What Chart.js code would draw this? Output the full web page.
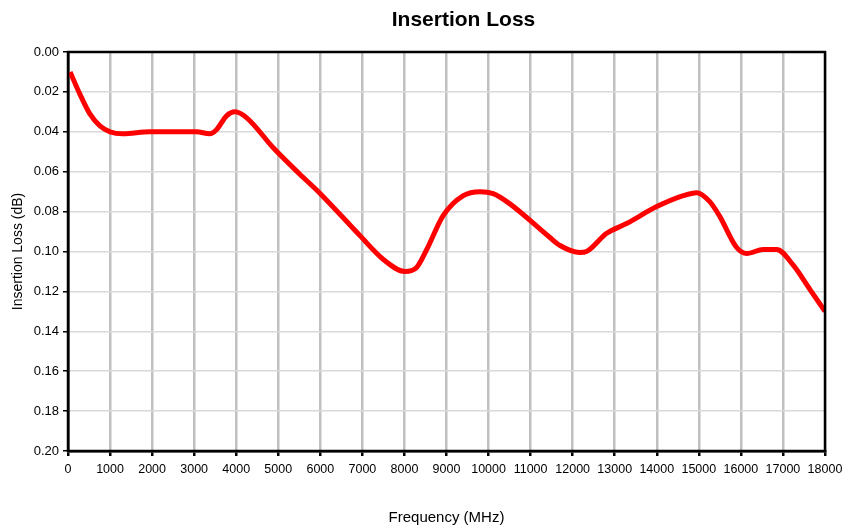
<!DOCTYPE html>
<html>
<head>
<meta charset="utf-8">
<script src="https://cdn.jsdelivr.net/npm/chart.js@4.4.0/dist/chart.umd.min.js"></script>
<style>
  html, body { margin: 0; padding: 0; background: #fff; }
  #wrap { width: 843px; height: 527px; }
</style>
</head>
<body>
<div id="wrap"><canvas id="lossChart"></canvas></div>
<script>
// Frequency (MHz) and insertion loss (dB)
var freqMHz = [50, 280, 520, 760, 1000, 1300, 1950, 3050, 3370, 3530, 3770, 3970, 4250,
    4880, 5500, 6000, 6940, 7500, 8010, 8290, 8530, 8920, 9400, 9800, 10110, 10500,
    11460, 11700, 12170, 12330, 12800, 13280, 14000, 14630, 14950, 15260, 15500, 15900,
    16140, 16530, 16850, 17250, 17640, 18000];
var lossDb = [0.010, 0.021, 0.031, 0.037, 0.040, 0.041, 0.040, 0.040, 0.041, 0.039, 0.032, 0.030, 0.033,
    0.048, 0.061, 0.071, 0.092, 0.104, 0.110, 0.108, 0.099, 0.082, 0.072, 0.070, 0.071, 0.076,
    0.093, 0.097, 0.1005, 0.100, 0.091, 0.086, 0.0775, 0.072, 0.0705, 0.075, 0.0825, 0.098,
    0.101, 0.099, 0.099, 0.107, 0.119, 0.130];

var chartTitle = 'Insertion Loss';
var xTitle = 'Frequency (MHz)';
var yTitle = 'Insertion Loss (dB)';

document.addEventListener('DOMContentLoaded', function () {
    var points = freqMHz.map(function (f, i) { return { x: f, y: lossDb[i] }; });

    // frame round the plot area plus the title above it
    var framePlugin = {
        id: 'frame',
        afterDraw: function (chart) {
            var a = chart.chartArea;
            var c = chart.ctx;
            c.save();
            c.strokeStyle = '#000';
            c.lineWidth = 2.5;
            c.strokeRect(a.left, a.top, a.right - a.left, a.bottom - a.top);
            c.fillStyle = '#000';
            c.font = 'bold 21px "Liberation Sans", Arial, sans-serif';
            c.textAlign = 'center';
            c.textBaseline = 'middle';
            c.fillText(chartTitle, (a.left + a.right) / 2 + 17, 20);
            c.restore();
        }
    };

    var ctx = document.getElementById('lossChart');
    if (ctx) {
        new Chart(ctx, {
            type: 'line',
            data: {
                datasets: [{
                    label: chartTitle,
                    data: points,
                    borderColor: '#ff0000',
                    borderWidth: 5,
                    pointRadius: 0,
                    cubicInterpolationMode: 'monotone',
                    fill: false
                }]
            },
            options: {
                responsive: true,
                maintainAspectRatio: false,
                animation: false,
                layout: { padding: { top: 52, right: 18, bottom: 0, left: 0 } },
                scales: {
                    x: {
                        type: 'linear',
                        min: 0,
                        max: 18000,
                        afterFit: function (s) {
                            s.height = 76;
                            s.paddingLeft = 0;
                            s.paddingRight = 0;
                        },
                        ticks: {
                            stepSize: 1000,
                            autoSkip: false,
                            color: '#000',
                            padding: 6,
                            maxRotation: 0,
                            font: { family: '"Liberation Sans", Arial, sans-serif', size: 12.5 },
                            callback: function (v) { return String(v); }
                        },
                        grid: { color: '#c0c0c0', lineWidth: 2.5, tickColor: '#000', tickLength: 5, drawOnChartArea: true },
                        border: { color: '#000', width: 2.5 },
                        title: {
                            display: true,
                            text: xTitle,
                            color: '#000',
                            padding: { top: 0, bottom: 0 },
                            font: { family: '"Liberation Sans", Arial, sans-serif', size: 15 }
                        }
                    },
                    y: {
                        reverse: true,
                        min: 0,
                        max: 0.2,
                        afterFit: function (s) { s.width = 68; },
                        ticks: {
                            stepSize: 0.02,
                            color: '#000',
                            padding: 4,
                            font: { family: '"Liberation Sans", Arial, sans-serif', size: 13 },
                            callback: function (v) { return v.toFixed(2); }
                        },
                        grid: { color: '#d9d9d9', lineWidth: 1.5, tickColor: '#000', tickLength: 5 },
                        border: { color: '#000', width: 2.5 },
                        title: {
                            display: true,
                            text: yTitle,
                            color: '#000',
                            padding: { top: 10, bottom: 0 },
                            font: { family: '"Liberation Sans", Arial, sans-serif', size: 14 }
                        }
                    }
                },
                plugins: {
                    legend: { display: false },
                    title: { display: false },
                    tooltip: { enabled: false }
                }
            },
            plugins: [framePlugin]
        });
    } else {
        console.error("Canvas element with ID 'lossChart' not found.");
    }
});
</script>
</body>
</html>
